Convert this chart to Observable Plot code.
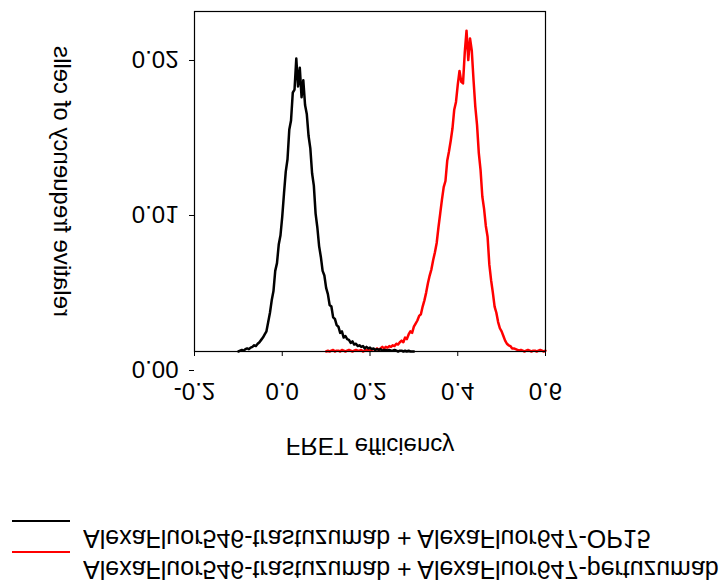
<!DOCTYPE html>
<html>
<head>
<meta charset="utf-8">
<script src="https://cdn.jsdelivr.net/npm/d3@7"></script>
<script src="https://cdn.jsdelivr.net/npm/@observablehq/plot@0.6"></script>
<style>
  html, body { margin: 0; padding: 0; background: white; }
  #wrap { width: 721px; font-family: "Liberation Sans", Arial, sans-serif; }
  #legend { position: relative; width: 721px; height: 90px; overflow: hidden; }
  .lg-line { position: absolute; left: 12px; width: 58px; height: 0; }
  .lg-text { position: absolute; left: 83px; font-size: 25px; line-height: 28px; white-space: nowrap;
             transform: scaleY(-1); transform-origin: center; color: black; }
</style>
</head>
<body>
<div id="wrap"></div>
<script>
// ---- data ----
const seriesNames = [
  "AlexaFluor546-trastuzumab + AlexaFluor647-OP15",
  "AlexaFluor546-trastuzumab + AlexaFluor647-pertuzumab"
];
const seriesColors = ["black", "red"];
const binWidth = 0.004;
// black series: bins starting at -0.100 (values in units of 0.001)
const blackStart = -0.100;
const blackValues = [
  0,0.05,0.1,0.05,0.15,0.2,0.15,0.25,0.3,0.4,
  0.35,0.5,0.6,0.75,0.9,1.1,1.3,1.9,2.5,3.3,
  3.9,5.2,5.7,6.9,7.5,8.7,10.2,11.6,12.4,14.3,
  14.9,16.7,16.9,18.9,17.1,18.3,16.4,17.5,15.9,15.3,
  13.9,13.1,11.5,10.7,8.9,8.0,6.8,6.1,5.2,4.9,
  4.1,3.7,3.0,2.9,2.2,2.1,1.7,1.6,1.2,1.3,
  0.9,1.0,0.8,0.75,0.55,0.65,0.45,0.5,0.35,0.4,
  0.3,0.35,0.2,0.3,0.2,0.25,0.15,0.2,0.1,0.15,
  0.1,0.15,0.05,0.1,0.1,0.05,0.1,0.05,0.05,0.1,
  0.05,0,0.05,0.05,0,0.05,0,0.05,0,0,0
];
// red series: bins starting at 0.100 (values in units of 0.001)
const redStart = 0.100;
const redValues = [
  0,0.05,0,0.05,0.1,0,0.05,0.05,0,0.1,0.05,0,0.05,0.1,0.05,0,0.05,0.1,0.05,0.05,0.1,0,0.05,0.1,0.05,0.1,
  0.1,0.15,0.1,0.2,0.1,0.2,0.3,0.2,0.3,0.25,0.35,0.3,0.4,0.35,0.5,0.45,0.6,0.7,0.6,0.9,
  0.8,1.1,1.3,1.2,1.6,1.8,2.0,2.3,2.4,2.9,3.3,3.8,4.4,4.9,5.3,5.9,6.4,7.0,8.0,8.9,
  9.8,10.6,11.0,12.3,12.9,13.6,14.4,15.6,16.1,17.2,18.1,17.4,17.3,19.3,20.7,18.8,20.2,19.4,
  17.5,15.8,14.6,12.8,11.7,10.0,9.2,8.1,7.4,5.6,4.6,3.8,2.9,2.5,1.9,1.5,1.3,1.0,0.7,0.5,
  0.4,0.35,0.2,0.2,0.15,
  0.1,0.05,0.1,0.05,0,0.05,0.1,0.05,0,0.05,0.05,0,0.05,0.1,0.05,0,0.05
];
const xTicks = [-0.2, 0.0, 0.2, 0.4, 0.6];
const yTicks = [0.00, 0.01, 0.02];
const xLabel = "FRET efficiency";
const yLabel = "relative frequency of cells";

// ---- tables ----
const toRows = (start, vals, series) => vals.map((v, i) => ({x: start + i * binWidth, y: v / 1000, series}));
const blackRows = toRows(blackStart, blackValues, seriesNames[0]);
const redRows = toRows(redStart, redValues, seriesNames[1]);

const chart = Plot.plot({
  width: 721,
  height: 490,
  marginLeft: 194,
  marginRight: 176,
  marginTop: 11,
  marginBottom: 139,
  style: {fontFamily: "'Liberation Sans', Arial, sans-serif", fontSize: "24px", background: "white", color: "black"},
  x: {domain: [-0.2, 0.6]},
  y: {domain: [0, 0.021935]},
  marks: [
    Plot.axisX({ticks: xTicks, tickFormat: d => d.toFixed(1), tickSize: 5, tickPadding: 26, label: null, fontSize: 24}),
    Plot.axisY({ticks: yTicks, tickFormat: d => d.toFixed(2), tickSize: 5, tickPadding: 11, dy: 19, label: null, fontSize: 24}),
    Plot.line(redRows, {x: "x", y: "y", stroke: seriesColors[1], strokeWidth: 2.5}),
    Plot.line(blackRows, {x: "x", y: "y", stroke: seriesColors[0], strokeWidth: 2.5}),
    Plot.frame({stroke: "black", strokeWidth: 1.2}),
    Plot.text([xLabel], {text: d => d, frameAnchor: "bottom", lineAnchor: "middle", dy: 96, fontSize: 24, fill: "black"}),
    Plot.text([yLabel], {text: d => d, frameAnchor: "left", textAnchor: "middle", lineAnchor: "middle", dx: -131, rotate: -90, fontSize: 24, fill: "black"})
  ]
});

const wrap = document.getElementById("wrap");
wrap.appendChild(chart);

// legend
const legend = document.createElement("div");
legend.id = "legend";
const lineTops = [31, 62];
const textTops = [35, 66];
seriesNames.forEach((name, i) => {
  const ln = document.createElement("div");
  ln.className = "lg-line";
  ln.style.top = (lineTops[i] - 1) + "px";
  ln.style.borderTop = "2px solid " + seriesColors[i];
  legend.appendChild(ln);
  const tx = document.createElement("div");
  tx.className = "lg-text";
  tx.style.top = textTops[i] + "px";
  tx.textContent = name;
  legend.appendChild(tx);
});
wrap.appendChild(legend);

// flip every chart text vertically in place
chart.querySelectorAll("text").forEach(t => {
  const b = t.getBBox();
  const cy = b.y + b.height / 2;
  const tr = t.getAttribute("transform") || "";
  t.setAttribute("transform", `${tr} translate(0,${cy}) scale(1,-1) translate(0,${-cy})`);
});
</script>
</body>
</html>
